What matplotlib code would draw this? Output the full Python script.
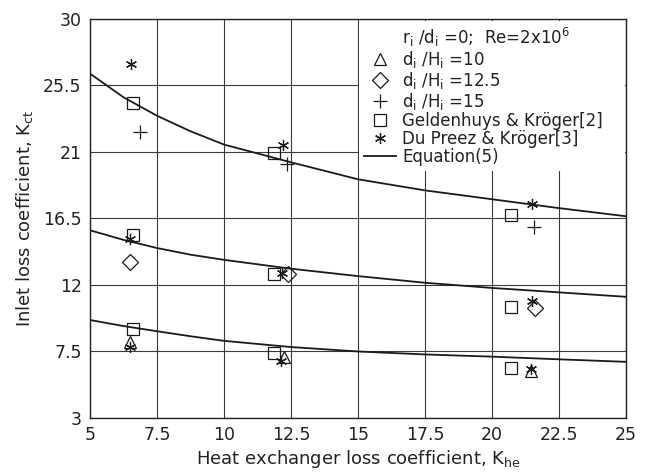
import matplotlib
matplotlib.use("Agg")
import matplotlib.pyplot as plt
from matplotlib.lines import Line2D

# Equation (5) curves, read at positions along x
curve_x = [5, 6.25, 7.5, 8.75, 10, 12.5, 15, 17.5, 20, 22.5, 25]
curve_dh15 = [26.3, 24.7, 23.45, 22.4, 21.5, 20.3, 19.15, 18.4, 17.8, 17.2, 16.65]
curve_dh125 = [15.7, 15.05, 14.5, 14.05, 13.7, 13.1, 12.6, 12.15, 11.8, 11.5, 11.2]
curve_dh10 = [9.63, 9.22, 8.87, 8.53, 8.22, 7.8, 7.5, 7.3, 7.15, 6.97, 6.8]

# d_i/H_i = 10 (triangles)
tri_x = [6.5, 12.25, 21.45]
tri_y = [8.13, 7.12, 6.2]
# d_i/H_i = 12.5 (diamonds)
dia_x = [6.5, 12.4, 21.6]
dia_y = [13.55, 12.73, 10.42]
# d_i/H_i = 15 (plus)
plus_x = [6.87, 12.36, 21.56]
plus_y = [22.36, 20.16, 15.94]
# Geldenhuys & Kröger [2] (squares)
sq_x = [6.6, 6.6, 6.6, 11.85, 11.85, 11.85, 20.7, 20.7, 20.7]
sq_y = [24.3, 15.35, 9.0, 20.9, 12.73, 7.41, 16.7, 10.54, 6.4]
# Du Preez & Kröger [3] (asterisks)
ast_x = [6.53, 6.5, 6.5, 12.2, 12.18, 12.14, 21.5, 21.5, 21.45]
ast_y = [26.93, 15.1, 7.79, 21.49, 12.78, 6.83, 17.5, 10.92, 6.3]

xticks = [5, 7.5, 10, 12.5, 15, 17.5, 20, 22.5, 25]
xtick_labels = ["5", "7.5", "10", "12.5", "15", "17.5", "20", "22.5", "25"]
yticks = [3, 7.5, 12, 16.5, 21, 25.5, 30]
ytick_labels = ["3", "7.5", "12", "16.5", "21", "25.5", "30"]

plt.rcParams['font.family'] = ['DejaVu Sans']
plt.rcParams['mathtext.fontset'] = 'dejavusans'

fig = plt.figure(figsize=(6.54, 4.73), dpi=100)
ax = fig.add_axes([0.1376, 0.1163, 0.957 - 0.1376, 0.96 - 0.1163])

ax.set_xlim(5, 25)
ax.set_ylim(3, 30)
ax.set_xticks(xticks)
ax.set_xticklabels(xtick_labels)
ax.set_yticks(yticks)
ax.set_yticklabels(ytick_labels)
ax.tick_params(length=0, labelsize=12.5, pad=6, colors='#222222')
ax.grid(True, color='#3a3a3a', lw=0.8, ls='-')
ax.set_axisbelow(True)
for s in ax.spines.values():
    s.set_color('#222222')
    s.set_linewidth(1.0)

lc = '#1a1a1a'
for cy in (curve_dh15, curve_dh125, curve_dh10):
    ax.plot(curve_x, cy, color=lc, lw=1.3)

mk = dict(linestyle='none', markerfacecolor='none', markeredgecolor=lc, markeredgewidth=0.9)
ax.plot(tri_x, tri_y, marker='^', markersize=9, **mk)
ax.plot(dia_x, dia_y, marker='D', markersize=8.5, **mk)
ax.plot(plus_x, plus_y, marker='+', markersize=9.5, **mk)
ax.plot(sq_x, sq_y, marker='s', markersize=8, **mk)
ax.plot(ast_x, ast_y, marker=(6, 2, 0), markersize=8, **mk)

ax.set_xlabel("Heat exchanger loss coefficient, K$_{\\mathrm{he}}$", fontsize=13, color='#222222', labelpad=3)
ax.set_ylabel("Inlet loss coefficient, K$_{\\mathrm{ct}}$", fontsize=13, color='#222222', labelpad=6)

handles = [
    Line2D([], [], linestyle='none', marker=None),
    Line2D([], [], marker='^', markersize=9, **mk),
    Line2D([], [], marker='D', markersize=8.5, **mk),
    Line2D([], [], marker='+', markersize=9.5, **mk),
    Line2D([], [], marker='s', markersize=8, **mk),
    Line2D([], [], marker=(6, 2, 0), markersize=8, **mk),
    Line2D([], [], color=lc, lw=1.3),
]
labels = [
    "r$_{\\mathrm{i}}$ /d$_{\\mathrm{i}}$ =0;  Re=2x10$^{6}$",
    "d$_{\\mathrm{i}}$ /H$_{\\mathrm{i}}$ =10",
    "d$_{\\mathrm{i}}$ /H$_{\\mathrm{i}}$ =12.5",
    "d$_{\\mathrm{i}}$ /H$_{\\mathrm{i}}$ =15",
    "Geldenhuys & Kröger[2]",
    "Du Preez & Kröger[3]",
    "Equation(5)",
]
leg = ax.legend(handles, labels, loc='upper left', bbox_to_anchor=(0.502, 0.6, 0.496, 0.396),
                mode='expand', frameon=True, fontsize=12, handlelength=1.9, handletextpad=0.4,
                labelspacing=0.0, borderpad=0.3, borderaxespad=0.0)
leg.get_frame().set_facecolor('white')
leg.get_frame().set_edgecolor('none')
leg.get_frame().set_alpha(1.0)
leg.get_frame().set_boxstyle('square', pad=0.0)
for t in leg.get_texts():
    t.set_color('#222222')

fig.savefig("out.png", dpi=100)
